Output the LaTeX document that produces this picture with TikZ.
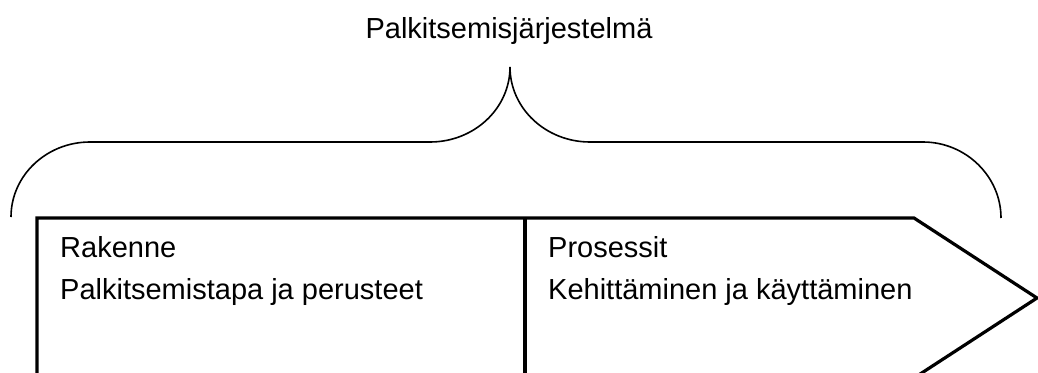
\documentclass[tikz,border=0pt]{standalone}
\usepackage{fontspec}
\setmainfont{Liberation Sans}
\begin{document}
\begin{tikzpicture}[x=1pt,y=-1pt,
  lbl/.style={inner sep=0pt,font=\fontsize{29}{35}\selectfont},
  bracestyle/.style={line width=1.6pt},
  shapestyle/.style={line width=3.2pt,line join=miter}]
\clip (0,0) rectangle (1038,372);
\node[lbl,anchor=base] (title) at (509,38) {Palkitsemisjärjestelmä};
% brace
\coordinate (bl) at (11,217);
\coordinate (bm) at (510,67);
\coordinate (br) at (1001,218);
\draw[bracestyle] (bl) .. controls (11,175.6) and (46.4,142) .. (90,142)
  -- (430,142) .. controls (474.2,142) and (510,108.4) .. (bm)
  .. controls (510,108.4) and (545.8,142) .. (590,142)
  -- (923,142) .. controls (966,142) and (1001,176.6) .. (br);
% arrow shape
\coordinate (a1) at (37,420);
\coordinate (a2) at (37,218);
\coordinate (a3) at (914,218);
\coordinate (tip) at (1037,298);
\coordinate (a5) at (914,378);
\coordinate (a6) at (37,378);
\draw[shapestyle] (a1) -- (a2) -- (a3) -- (tip) -- (a5) -- ++(-20,12.6);
\coordinate (d1) at (525,218);
\coordinate (d2) at (525,420);
\draw[shapestyle] (d1) -- (d2);
\node[lbl,anchor=base west] (rak) at (60,257) {Rakenne};
\node[lbl,anchor=base west] (palk) at (60,299) {Palkitsemistapa ja perusteet};
\node[lbl,anchor=base west] (pros) at (548,257) {Prosessit};
\node[lbl,anchor=base west] (keh) at (548,299) {Kehittäminen ja käyttäminen};
\end{tikzpicture}
\end{document}
